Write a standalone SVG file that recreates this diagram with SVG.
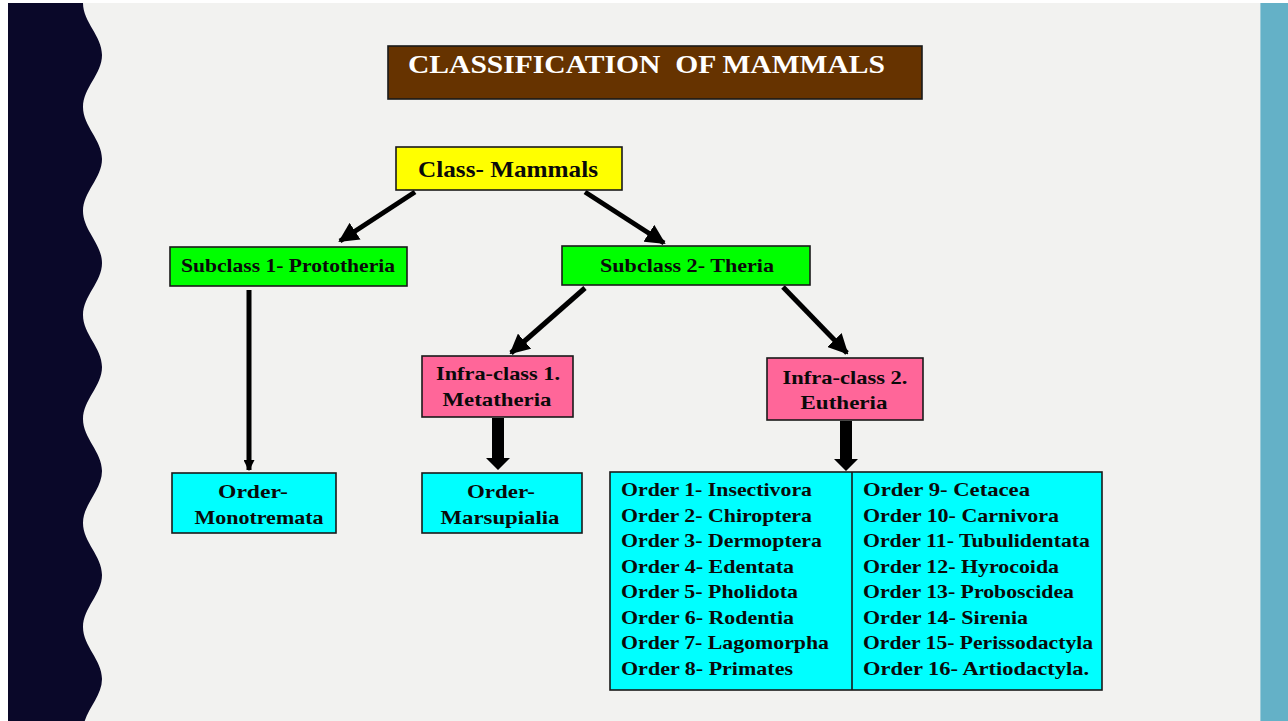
<svg xmlns="http://www.w3.org/2000/svg" width="1288" height="721" viewBox="0 0 1288 721">
<defs>
<style>
.box{stroke:#1a1a1a;stroke-width:1.6}
.t{font-family:"Liberation Serif","Times New Roman",serif;font-weight:bold;fill:#0a0a0a}
.c{text-anchor:middle}
.ord{font-size:19px}
.conn{stroke:#000;stroke-width:5;fill:none}
</style>
<marker id="ah" viewBox="0 0 10 10" refX="9" refY="5" markerWidth="4" markerHeight="4" orient="auto" markerUnits="strokeWidth">
<path d="M0,0 L10,5 L0,10 z" fill="#000"/>
</marker>
<marker id="ahs" viewBox="0 0 10 10" refX="9" refY="5" markerWidth="2.2" markerHeight="2.2" orient="auto" markerUnits="strokeWidth">
<path d="M0,0 L10,5 L0,10 z" fill="#000"/>
</marker>
</defs>
<rect x="0" y="0" width="1288" height="721" fill="#ffffff"/>
<rect x="8" y="3" width="1280" height="718" fill="#f2f2f0"/>
<rect x="1260" y="3" width="28" height="718" fill="#64b1c7"/>
<line x1="1260.5" y1="3" x2="1260.5" y2="721" stroke="#9ccbd9" stroke-width="1"/>
<path fill="#0a0829" d="M8,3 L83,3
C83,22 102,36 102,55 C102,74 83,88 83,107
C83,126 102,140 102,159 C102,178 83,192 83,211
C83,230 102,244 102,263 C102,282 83,296 83,315
C83,334 102,348 102,367 C102,386 83,400 83,419
C83,438 102,452 102,471 C102,490 83,504 83,523
C83,542 102,556 102,575 C102,594 83,608 83,627
C83,646 102,660 102,679 C102,698 83,712 83,731
L8,731 Z"/>

<g id="title">
<rect x="388" y="46" width="534" height="53" fill="#663300" stroke="#1a1a1a" stroke-width="1.6"/>
<text x="408" y="73" font-family="Liberation Serif, Times New Roman, serif" font-weight="bold" font-size="25" fill="#ffffff" textLength="477" lengthAdjust="spacingAndGlyphs" style="white-space:pre">CLASSIFICATION  OF MAMMALS</text>
</g>

<g id="connectors">
<line class="conn" x1="415" y1="192" x2="340" y2="241" marker-end="url(#ah)"/>
<line class="conn" x1="585" y1="192" x2="664" y2="243" marker-end="url(#ah)"/>
<line class="conn" x1="249" y1="290" x2="249" y2="470" marker-end="url(#ahs)"/>
<line class="conn" x1="585" y1="288" x2="511" y2="353" marker-end="url(#ah)"/>
<line class="conn" x1="783" y1="287" x2="847" y2="353" marker-end="url(#ah)"/>
<path d="M492,418 L504,418 L504,458 L510,458 L498,470 L486,458 L492,458 Z" fill="#000"/>
<path d="M840,421 L852,421 L852,459 L858,459 L846,471 L834,459 L840,459 Z" fill="#000"/>
</g>

<g id="class">
<rect class="box" x="396" y="147" width="226" height="43" fill="#ffff00"/>
<text class="t c" x="508" y="177" font-size="24" textLength="180" lengthAdjust="spacingAndGlyphs">Class- Mammals</text>
</g>

<g id="subclass1">
<rect class="box" x="170" y="247" width="237" height="39" fill="#00ff00"/>
<text class="t c" x="288" y="272" font-size="19" textLength="214" lengthAdjust="spacingAndGlyphs">Subclass 1- Prototheria</text>
</g>

<g id="subclass2">
<rect class="box" x="562" y="246" width="248" height="39" fill="#00ff00"/>
<text class="t c" x="687" y="272" font-size="19" textLength="174" lengthAdjust="spacingAndGlyphs">Subclass 2- Theria</text>
</g>

<g id="infra1">
<rect class="box" x="422" y="356" width="151" height="61" fill="#ff6699"/>
<text class="t c" x="498" y="380" font-size="19" textLength="124" lengthAdjust="spacingAndGlyphs">Infra-class 1.</text>
<text class="t c" x="497" y="406" font-size="19" textLength="109" lengthAdjust="spacingAndGlyphs">Metatheria</text>
</g>

<g id="infra2">
<rect class="box" x="767" y="358" width="156" height="62" fill="#ff6699"/>
<text class="t c" x="845" y="384" font-size="19" textLength="125" lengthAdjust="spacingAndGlyphs">Infra-class 2.</text>
<text class="t c" x="844" y="409" font-size="19" textLength="87" lengthAdjust="spacingAndGlyphs">Eutheria</text>
</g>

<g id="monotremata">
<rect class="box" x="172" y="473" width="164" height="60" fill="#00ffff"/>
<text class="t c" x="253" y="498" font-size="19" textLength="70" lengthAdjust="spacingAndGlyphs">Order-</text>
<text class="t c" x="259" y="524" font-size="19" textLength="129" lengthAdjust="spacingAndGlyphs">Monotremata</text>
</g>

<g id="marsupialia">
<rect class="box" x="422" y="473" width="160" height="60" fill="#00ffff"/>
<text class="t c" x="501" y="498" font-size="19" textLength="68" lengthAdjust="spacingAndGlyphs">Order-</text>
<text class="t c" x="500" y="524" font-size="19" textLength="119" lengthAdjust="spacingAndGlyphs">Marsupialia</text>
</g>

<g id="eutheria-orders">
<rect class="box" x="610" y="472" width="492" height="218" fill="#00ffff"/>
<line x1="852" y1="472" x2="852" y2="690" stroke="#1a1a1a" stroke-width="1.6"/>
<text class="t ord" x="621" y="496" textLength="191" lengthAdjust="spacingAndGlyphs">Order 1- Insectivora</text>
<text class="t ord" x="621" y="521.6" textLength="191" lengthAdjust="spacingAndGlyphs">Order 2- Chiroptera</text>
<text class="t ord" x="621" y="547.1" textLength="201" lengthAdjust="spacingAndGlyphs">Order 3- Dermoptera</text>
<text class="t ord" x="621" y="572.7" textLength="173" lengthAdjust="spacingAndGlyphs">Order 4- Edentata</text>
<text class="t ord" x="621" y="598.3" textLength="177" lengthAdjust="spacingAndGlyphs">Order 5- Pholidota</text>
<text class="t ord" x="621" y="623.9" textLength="173" lengthAdjust="spacingAndGlyphs">Order 6- Rodentia</text>
<text class="t ord" x="621" y="649.4" textLength="208" lengthAdjust="spacingAndGlyphs">Order 7- Lagomorpha</text>
<text class="t ord" x="621" y="675" textLength="172" lengthAdjust="spacingAndGlyphs">Order 8- Primates</text>
<text class="t ord" x="863" y="496" textLength="167" lengthAdjust="spacingAndGlyphs">Order 9- Cetacea</text>
<text class="t ord" x="863" y="521.6" textLength="196" lengthAdjust="spacingAndGlyphs">Order 10- Carnivora</text>
<text class="t ord" x="863" y="547.1" textLength="227" lengthAdjust="spacingAndGlyphs">Order 11- Tubulidentata</text>
<text class="t ord" x="863" y="572.7" textLength="196" lengthAdjust="spacingAndGlyphs">Order 12- Hyrocoida</text>
<text class="t ord" x="863" y="598.3" textLength="211" lengthAdjust="spacingAndGlyphs">Order 13- Proboscidea</text>
<text class="t ord" x="863" y="623.9" textLength="165" lengthAdjust="spacingAndGlyphs">Order 14- Sirenia</text>
<text class="t ord" x="863" y="649.4" textLength="230" lengthAdjust="spacingAndGlyphs">Order 15- Perissodactyla</text>
<text class="t ord" x="863" y="675" textLength="226" lengthAdjust="spacingAndGlyphs">Order 16- Artiodactyla.</text>
</g>
</svg>
